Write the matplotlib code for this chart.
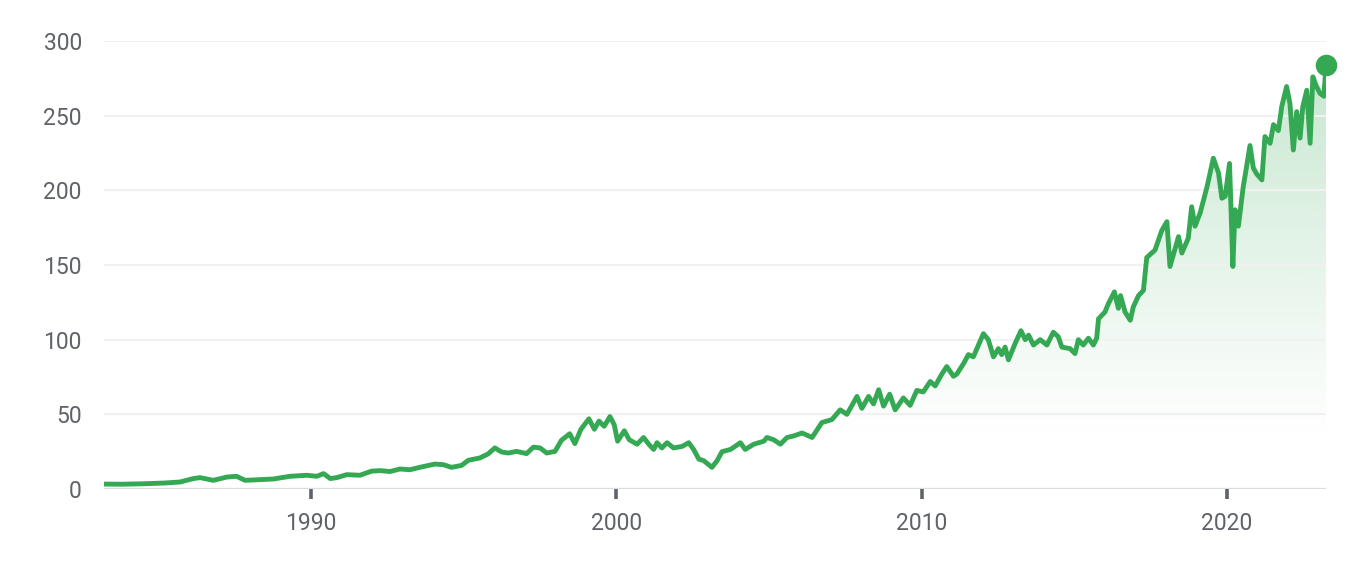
import matplotlib
matplotlib.use("Agg")
import matplotlib.pyplot as plt
import numpy as np
from matplotlib.colors import to_rgb

# price history (decimal year, price)
years = [1983.22, 1983.8, 1984.5, 1985.2, 1985.71, 1986.15, 1986.37, 1986.8, 1987.24, 1987.56,
         1987.84, 1988.33, 1988.77, 1989.31, 1989.86, 1990.19, 1990.41, 1990.63, 1990.84, 1991.17,
         1991.6, 1991.99, 1992.26, 1992.59, 1992.91, 1993.24, 1993.56, 1994.06, 1994.33, 1994.6,
         1994.93, 1995.15, 1995.53, 1995.8, 1996.02, 1996.24, 1996.46, 1996.73, 1997.06, 1997.28,
         1997.5, 1997.72, 1997.99, 1998.2, 1998.47, 1998.64, 1998.84, 1999.1, 1999.28, 1999.43,
         1999.6, 1999.79, 1999.93, 2000.04, 2000.26, 2000.42, 2000.68, 2000.89, 2001.06, 2001.22,
         2001.33, 2001.49, 2001.66, 2001.87, 2002.15, 2002.37, 2002.53, 2002.7, 2002.86, 2003.13,
         2003.3, 2003.46, 2003.74, 2004.06, 2004.22, 2004.5, 2004.83, 2004.93, 2005.15, 2005.37,
         2005.59, 2005.8, 2006.08, 2006.41, 2006.73, 2007.06, 2007.33, 2007.55, 2007.88, 2008.04,
         2008.26, 2008.42, 2008.59, 2008.75, 2008.95, 2009.13, 2009.4, 2009.62, 2009.84, 2010.05,
         2010.28, 2010.44, 2010.66, 2010.82, 2011.04, 2011.15, 2011.37, 2011.53, 2011.69, 2011.86,
         2012.02, 2012.18, 2012.35, 2012.51, 2012.62, 2012.73, 2012.84, 2013.06, 2013.25, 2013.39,
         2013.5, 2013.66, 2013.88, 2014.1, 2014.31, 2014.47, 2014.59, 2014.86, 2015.02, 2015.13,
         2015.29, 2015.46, 2015.62, 2015.73, 2015.79, 2016.0, 2016.11, 2016.31, 2016.44, 2016.51,
         2016.66, 2016.83, 2016.93, 2017.1, 2017.26, 2017.37, 2017.64, 2017.86, 2018.03, 2018.13,
         2018.41, 2018.52, 2018.73, 2018.84, 2018.95, 2019.12, 2019.34, 2019.55, 2019.72, 2019.83,
         2019.94, 2020.08, 2020.19, 2020.26, 2020.37, 2020.53, 2020.64, 2020.75, 2020.86, 2020.97,
         2021.14, 2021.24, 2021.41, 2021.52, 2021.68, 2021.79, 2021.95, 2022.06, 2022.17, 2022.28,
         2022.39, 2022.48, 2022.61, 2022.72, 2022.81, 2022.92, 2023.04, 2023.17, 2023.24]
prices = [3.3, 3.2, 3.5, 4.0, 4.7, 7.0, 7.6, 5.8, 8.0, 8.5,
          5.8, 6.3, 6.7, 8.5, 9.2, 8.5, 10.3, 7.0, 7.6, 9.6,
          9.2, 12.0, 12.3, 11.7, 13.4, 12.9, 14.5, 16.7, 16.3, 14.5,
          15.8, 19.2, 20.8, 23.5, 27.5, 24.8, 24.1, 25.2, 23.7, 28.0,
          27.5, 24.1, 25.2, 32.6, 37.0, 30.4, 40.0, 47.0, 40.0, 45.5,
          42.0, 48.5, 43.0, 32.0, 39.0, 33.0, 30.0, 34.5, 30.0, 26.5,
          31.0, 27.5, 31.0, 27.5, 28.5, 31.0, 26.5, 20.0, 19.0, 14.5,
          19.0, 25.0, 26.5, 31.0, 26.5, 30.0, 32.0, 34.5, 33.0, 30.0,
          34.5, 35.5, 37.5, 34.5, 44.5, 46.5, 53.0, 50.0, 62.0, 54.0,
          62.0, 57.0, 66.5, 55.5, 63.5, 53.0, 61.0, 56.0, 66.0, 65.0,
          72.0, 69.0, 77.0, 82.0, 75.5, 77.0, 84.0, 90.0, 88.5, 96.4,
          104.0, 100.0, 88.5, 94.0, 90.0, 95.0, 86.5, 97.5, 106.0, 100.0,
          103.0, 96.4, 100.0, 96.4, 105.0, 102.0, 95.0, 94.0, 90.7, 100.0,
          96.4, 101.0, 96.4, 101.0, 114.0, 118.5, 124.0, 132.0, 121.0, 129.5,
          118.5, 113.0, 122.0, 129.5, 133.0, 155.0, 160.0, 173.0, 179.0, 149.0,
          169.0, 158.0, 168.0, 189.0, 176.0, 185.0, 202.0, 221.5, 211.6, 194.7,
          196.0, 218.0, 149.0, 187.0, 176.0, 202.5, 216.0, 230.0, 215.0, 211.0,
          207.0, 236.0, 231.5, 244.0, 240.0, 256.0, 269.5, 258.0, 227.0, 252.7,
          235.0, 256.0, 267.0, 231.5, 276.0, 270.0, 265.0, 263.0, 284.0]
x_ticks = [1990, 2000, 2010, 2020]
y_ticks = [0, 50, 100, 150, 200, 250, 300]

plt.rcParams['font.family'] = ['Roboto', 'DejaVu Sans']

green = '#34a853'
label_gray = '#5f6368'

fig = plt.figure(figsize=(13.64, 5.8), dpi=100)
ax = fig.add_axes([104 / 1364, 1 - 489 / 580, (1326 - 104) / 1364, (489 - 41) / 580])

# gradient fill under the line
poly = ax.fill_between(years, prices, 0, color='none', lw=0)
top = max(prices)
ys = np.linspace(0, top, 256)
alpha = np.clip((ys - 35) / (top - 35), 0, 1) * 0.27
rgba = np.zeros((256, 1, 4))
rgba[:, 0, :3] = to_rgb(green)
rgba[:, 0, 3] = alpha
img = ax.imshow(rgba, extent=[years[0], years[-1], 0, top], origin='lower',
                aspect='auto', zorder=1, interpolation='bilinear')
img.set_clip_path(poly.get_paths()[0], transform=ax.transData)

ax.plot(years, prices, color=green, lw=3.5, solid_joinstyle='round', zorder=3)
ax.plot([years[-1]], [prices[-1]], 'o', color=green, markersize=14.5, clip_on=False, zorder=4)

ax.set_xlim(years[0], years[-1])
ax.set_ylim(0, 300)

ax.set_yticks(y_ticks)
ax.set_xticks(x_ticks)
ax.set_xticklabels([str(t) for t in x_ticks])
ax.yaxis.grid(True, color='#f1f1f1', lw=1.5, zorder=0)
ax.axhline(0, color='#dadce0', lw=1.6, zorder=2)
for s in ax.spines.values():
    s.set_visible(False)
ax.tick_params(axis='y', length=0, pad=16, labelsize=16.5, labelcolor=label_gray)
ax.tick_params(axis='x', length=7.5, width=2.6, color=label_gray, pad=9,
               labelsize=16.5, labelcolor=label_gray, direction='out')

plt.savefig('out.png', dpi=100)
